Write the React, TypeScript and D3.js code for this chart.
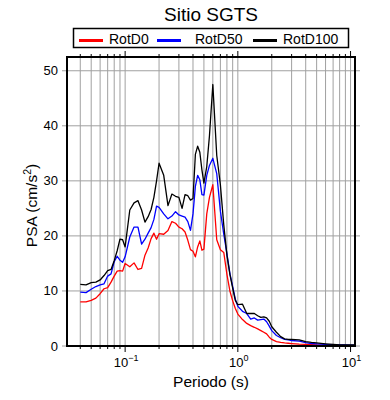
import * as d3 from "d3";

const W = 390;
const H = 400;
const LEFT = 67;
const RIGHT = 355;
const TOP = 57;
const BOTTOM = 346;

const FONT = "'Liberation Sans', Arial, Helvetica, sans-serif";

// periods (s)
const periods = [
  0.04, 0.045, 0.05, 0.055, 0.06, 0.065, 0.07, 0.075, 0.08, 0.085, 0.09, 0.095,
  0.1, 0.11, 0.12, 0.13, 0.14, 0.15, 0.16, 0.17, 0.18, 0.19, 0.2, 0.22, 0.24,
  0.26, 0.28, 0.3, 0.32, 0.34, 0.36, 0.38, 0.4, 0.42, 0.44, 0.46, 0.48, 0.5,
  0.53, 0.56, 0.6, 0.65, 0.7, 0.75, 0.8, 0.85, 0.9, 0.95, 1.0, 1.1, 1.2, 1.3,
  1.4, 1.5, 1.6, 1.7, 1.8, 1.9, 2.0, 2.2, 2.4, 2.6, 2.8, 3.0, 3.5, 4.0, 4.5,
  5.0, 6.0, 7.0, 8.0, 9.0, 10.0, 11.0,
];

const rotD0 = [
  8.0, 8.0, 8.3, 8.7, 9.5, 10.4, 10.6, 11.6, 12.7, 13.6, 13.7, 13.6,
  15.0, 14.4, 15.1, 13.9, 14.1, 16.5, 17.8, 19.5, 20.5, 19.4, 20.4, 20.3, 21.0,
  22.6, 22.3, 21.6, 21.3, 20.7, 19.2, 17.5, 17.2, 16.2, 18.0, 19.1, 17.4, 17.6,
  24.0, 27.0, 29.3, 19.3, 17.5, 17.0, 13.0, 10.0, 8.2, 6.8, 5.8, 4.8, 4.1, 3.7,
  3.4, 3.1, 2.8, 2.5, 2.2, 1.6, 1.2, 0.8, 0.65, 0.55, 0.5, 0.45, 0.35, 0.3, 0.25,
  0.2, 0.15, 0.1, 0.08, 0.06, 0.05, 0.05,
];

const rotD50 = [
  9.8, 9.7, 10.3, 10.8, 11.1, 11.3, 12.7, 13.1, 15.3, 16.3, 15.6, 15.2,
  16.2, 19.8, 21.6, 21.6, 18.5, 19.4, 20.5, 21.5, 23.0, 25.4, 25.2, 24.0, 23.1,
  23.6, 24.4, 23.8, 23.6, 23.4, 22.6, 21.0, 24.0, 29.0, 31.0, 30.2, 27.5, 27.4,
  31.0, 32.8, 34.1, 31.3, 24.5, 20.3, 16.8, 13.2, 10.8, 8.5, 7.2, 6.3, 5.9, 4.9,
  5.1, 4.7, 4.8, 4.9, 4.4, 3.6, 2.8, 1.9, 1.5, 1.2, 1.1, 1.0, 0.9, 0.6, 0.45,
  0.4, 0.3, 0.25, 0.2, 0.18, 0.15, 0.15,
];

const rotD100 = [
  11.2, 11.1, 11.5, 11.6, 12.0, 12.8, 13.7, 13.9, 15.5, 17.3, 19.4, 19.3,
  18.0, 24.7, 26.0, 26.4, 24.7, 22.5, 23.5, 24.8, 27.0, 30.0, 33.2, 31.0, 25.5,
  27.6, 27.2, 27.0, 25.0, 27.5, 27.3, 26.5, 26.8, 34.8, 36.3, 35.2, 32.0, 29.6,
  32.6, 38.2, 47.5, 34.6, 29.3, 22.0, 16.5, 13.0, 10.5, 8.3, 7.5, 7.6, 5.9, 5.9,
  5.9, 5.5, 5.2, 5.3, 5.1, 4.5, 3.5, 2.5, 1.7, 1.3, 1.2, 1.2, 1.1, 0.8, 0.65,
  0.55, 0.4, 0.3, 0.22, 0.2, 0.2, 0.2,
];

const series = [
  { name: "RotD0", color: "#ff0000", values: rotD0 },
  { name: "RotD50", color: "#0000ff", values: rotD50 },
  { name: "RotD100", color: "#000000", values: rotD100 },
];

const yTicks = [0, 10, 20, 30, 40, 50];
const xMajor = [0.1, 1, 10];
const xMinor = [
  0.04, 0.05, 0.06, 0.07, 0.08, 0.09, 0.2, 0.3, 0.4, 0.5, 0.6, 0.7, 0.8, 0.9,
  2, 3, 4, 5, 6, 7, 8, 9,
];
const xMajorLabels = ["\u22121", "0", "1"];

// legend item x positions (line start)
const legendX = [79, 157, 253];

export default function App() {
  const x = d3.scaleLog().domain([0.0305, 10.95]).range([LEFT, RIGHT]);
  const y = d3.scaleLinear().domain([0, 52.5]).range([BOTTOM, TOP]);

  const line = d3
    .line<number>()
    .x((_, i) => x(periods[i]))
    .y((d) => y(d));

  const grid = "#a0a0a0";

  return (
    <svg
      width={W}
      height={H}
      style={{ position: "absolute", left: 0, top: 0, background: "#fff" }}
      fontFamily={FONT}
    >
      {/* vertical grid */}
      {[...xMinor, ...xMajor].map((t) => (
        <line
          key={"vg" + t}
          x1={x(t)}
          x2={x(t)}
          y1={TOP}
          y2={BOTTOM}
          stroke={grid}
          strokeWidth={1}
        />
      ))}
      {/* horizontal grid (extends past frame as ticks) */}
      {yTicks.map((t) => (
        <line
          key={"hg" + t}
          x1={LEFT - 5}
          x2={RIGHT + 5}
          y1={y(t)}
          y2={y(t)}
          stroke={grid}
          strokeWidth={1}
        />
      ))}

      {/* bottom and top ticks */}
      {xMinor.map((t) => (
        <g key={"mt" + t}>
          <line x1={x(t)} x2={x(t)} y1={BOTTOM} y2={BOTTOM + 3} stroke="#000" />
          <line x1={x(t)} x2={x(t)} y1={TOP} y2={TOP - 3} stroke="#000" />
        </g>
      ))}
      {xMajor.map((t) => (
        <g key={"Mt" + t}>
          <line x1={x(t)} x2={x(t)} y1={BOTTOM} y2={BOTTOM + 6} stroke="#000" />
          <line x1={x(t)} x2={x(t)} y1={TOP} y2={TOP - 6} stroke="#000" />
        </g>
      ))}

      {/* curves */}
      {series.map((s) => (
        <path
          key={s.name}
          d={line(s.values) ?? ""}
          fill="none"
          stroke={s.color}
          strokeWidth={1.3}
          strokeLinejoin="round"
        />
      ))}

      {/* frame */}
      <rect
        x={LEFT}
        y={TOP}
        width={RIGHT - LEFT}
        height={BOTTOM - TOP}
        fill="none"
        stroke="#000"
        strokeWidth={2}
      />

      {/* y tick labels */}
      {yTicks.map((t) => (
        <text
          key={"yl" + t}
          x={LEFT - 9}
          y={y(t) + 4.5}
          textAnchor="end"
          fontSize={13}
          fill="#000"
        >
          {t}
        </text>
      ))}

      {/* x tick labels */}
      {xMajor.map((t, i) => (
        <text
          key={"xl" + t}
          x={x(t) + 1}
          y={367}
          textAnchor="middle"
          fontSize={13}
          fill="#000"
        >
          10
          <tspan dy={-6} fontSize={9}>
            {xMajorLabels[i]}
          </tspan>
        </text>
      ))}

      {/* axis titles */}
      <text
        x={(LEFT + RIGHT) / 2}
        y={387}
        textAnchor="middle"
        fontSize={15.5}
        fill="#000"
      >
        Periodo (s)
      </text>
      <text
        transform={`translate(37,${(TOP + BOTTOM) / 2 + 4}) rotate(-90)`}
        textAnchor="middle"
        fontSize={15.5}
        fill="#000"
      >
        PSA (cm/s
        <tspan dy={-6} fontSize={10.5}>
          2
        </tspan>
        <tspan dy={6}>)</tspan>
      </text>

      {/* title */}
      <text x={211} y={21} textAnchor="middle" fontSize={19} fill="#000">
        Sitio SGTS
      </text>

      {/* legend */}
      <rect
        x={73.5}
        y={28.5}
        width={275}
        height={19}
        fill="#fff"
        stroke="#000"
        strokeWidth={1.5}
      />
      {series.map((s, i) => (
        <g key={"lg" + s.name}>
          <line
            x1={legendX[i]}
            x2={legendX[i] + 24}
            y1={40.5}
            y2={40.5}
            stroke={s.color}
            strokeWidth={3}
          />
          <text
            x={legendX[i] + (i === 1 ? 38 : 30)}
            y={43.5}
            fontSize={14}
            fill="#000"
          >
            {s.name}
          </text>
        </g>
      ))}
    </svg>
  );
}
